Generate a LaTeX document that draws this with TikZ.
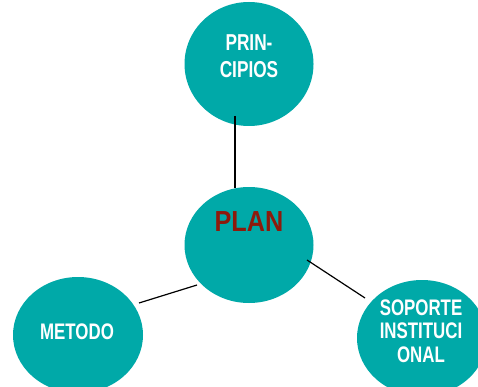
\documentclass[tikz,border=0pt]{standalone}
\usetikzlibrary{shapes.geometric}
\usepackage{fontspec}
\setmainfont{Liberation Sans}
\newfontfamily\narrowfont[FakeStretch=0.75]{Liberation Sans Bold}
\newfontfamily\planfont[FakeStretch=0.87]{Liberation Sans Bold}
\definecolor{tealfill}{HTML}{00A9A8}
\definecolor{plannred}{HTML}{8E1A0C}
\begin{document}
\begin{tikzpicture}[x=1pt,y=-1pt,
  blob/.style={ellipse, fill=tealfill, draw=none, inner sep=0pt},
  lbl/.style={text=white, font=\narrowfont\fontsize{22.5}{23.5}\selectfont, align=center, inner sep=0pt},
  link/.style={draw=black, line width=1.2pt}]
\useasboundingbox (0,0) rectangle (478,387);
\path[fill=white] (0,0) rectangle (478,387);
% ellipses
\node[blob, minimum width=129pt, minimum height=124pt] (pr) at (249,64) {};
\node[blob, minimum width=129pt, minimum height=116pt] (pl) at (249,245) {};
\node[blob, minimum width=130pt, minimum height=116pt] (me) at (78,335) {};
\node[blob, minimum width=130pt, minimum height=116pt] (so) at (422,338) {};
% texts
\node[lbl, font=\narrowfont\fontsize{23}{27}\selectfont] (prt) at (249,56) {PRIN-\\CIPIOS};
\node[text=plannred, font=\planfont\fontsize{29}{30}\selectfont, inner sep=0pt] (plt) at (249,222) {PLAN};
\node[lbl] (met) at (77,332) {METODO};
\node[lbl] (sot) at (421,331) {SOPORTE\\INSTITUCI\\ONAL};
% connector end points
\coordinate (a1) at (235,116);
\coordinate (a2) at (235,188);
\coordinate (b1) at (139,303);
\coordinate (b2) at (197,285);
\coordinate (c1) at (307,260);
\coordinate (c2) at (365,298);
\draw[link] (a1) -- (a2);
\draw[link] (b1) -- (b2);
\draw[link] (c1) -- (c2);
\end{tikzpicture}
\end{document}
